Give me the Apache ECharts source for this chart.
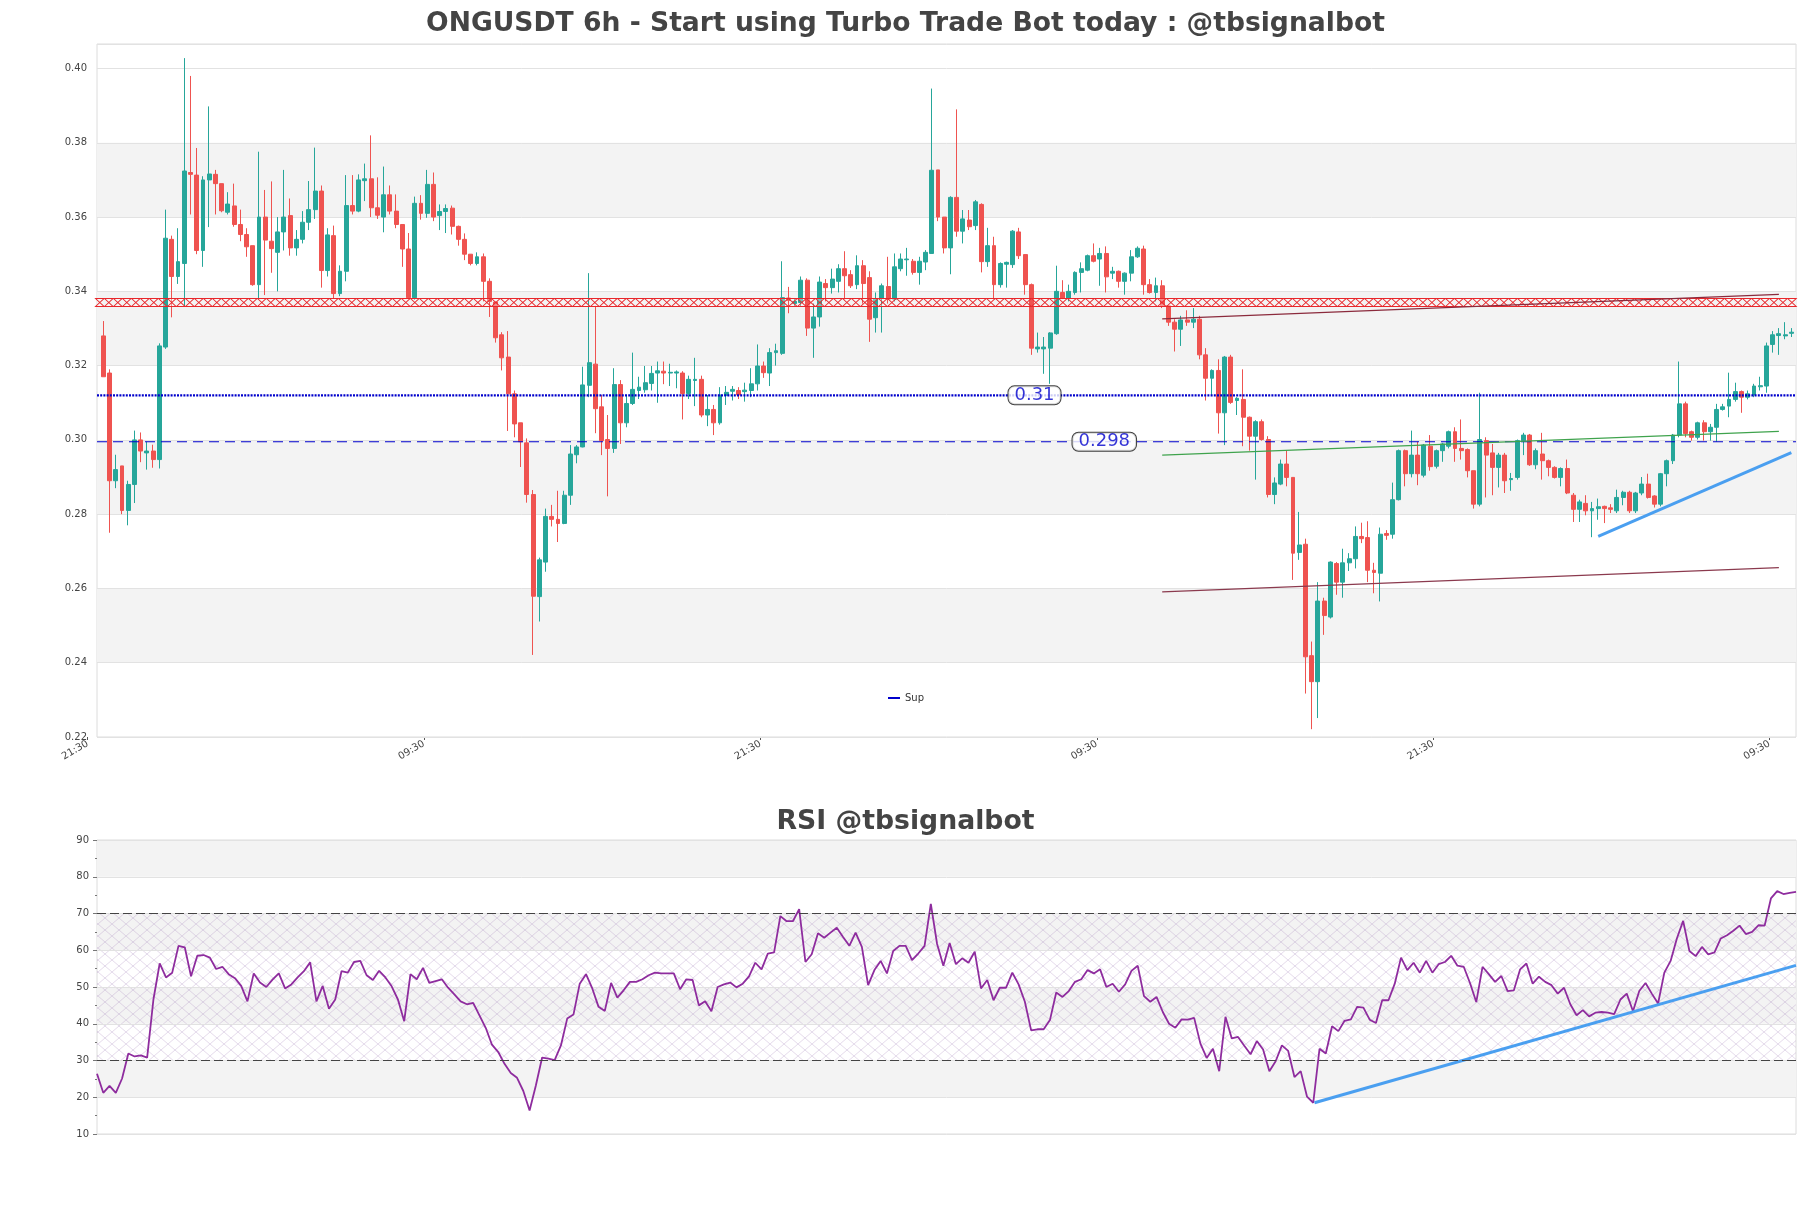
<!DOCTYPE html>
<html><head><meta charset="utf-8">
<script src="https://cdn.jsdelivr.net/npm/echarts@6/dist/echarts.min.js"></script>
<style>html,body{margin:0;padding:0;background:#fff}#c{width:1811px;height:1208px}</style>
</head><body><div id="c"></div>
<script>
// ---------- DATA ----------
const opens = [.328,.318,.289,.293,.281,.288,.300,.2965,.297,.2947,.325,.354,.344,.3475,.372,.3713,.351,.370,.3715,.369,
.3613,.363,.358,.3553,.3523,.3418,.360,.3535,.3505,.356,.3604,.3517,.354,.3586,.362,.367,.3456,.355,.3394,.3454,
.3631,.3616,.3698,.3703,.3625,.360,.366,.3616,.358,.3514,.3383,.3637,.361,.3688,.3604,.3615,.3624,.3575,.354,.350,
.3475,.3493,.3427,.3371,.3283,.3223,.3124,.3046,.2992,.2853,.2578,.2671,.2794,.2786,.2775,.2851,.296,.2981,.3147,.3204,
.3089,.3001,.2977,.3149,.3046,.3098,.3133,.3135,.3152,.318,.3185,.318,.318,.318,.3125,.316,.3163,.3067,.3082,.3046,
.312,.3131,.3133,.313,.3133,.3151,.3199,.318,.3235,.3233,.3382,.3367,.337,.343,.3301,.3331,.3421,.341,.3427,.3461,
.3445,.3418,.3469,.3437,.3329,.3382,.3413,.3379,.3461,.3485,.3481,.3451,.3479,.3502,.3727,.360,.3517,.3653,.3562,.3592,
.3577,.3634,.348,.3523,.3418,.3473,.3472,.356,.3499,.3418,.3245,.3245,.3247,.3286,.3397,.3382,.3397,.3451,.3457,.3496,
.3487,.3502,.3449,.3454,.3427,.3449,.3493,.3514,.3418,.3397,.3415,.3361,.3317,.3298,.3323,.3317,.3325,.3229,.3166,.3187,
.3073,.3223,.3106,.3109,.3061,.301,.3049,.3001,.2853,.2881,.2935,.2899,.2697,.2719,.2419,.2349,.2566,.2523,.2667,.2617,
.2669,.268,.274,.2737,.2649,.2641,.2748,.2746,.2839,.2971,.2909,.2959,.2905,.2983,.2929,.2971,.2983,.3022,.2977,.2974,
.2917,.2827,.2998,.2965,.2926,.2959,.2893,.2899,.2998,.3013,.2933,.2962,.2944,.2926,.2899,.2923,.2851,.2813,.2829,.2809,
.2815,.2821,.2817,.2809,.2845,.2859,.2809,.2857,.2881,.2849,.2827,.2909,.2944,.3013,.3097,.3022,.3007,.3046,.3022,.3034,
.3082,.3091,.3109,.313,.3115,.3121,.3143,.3145,.3257,.3281,.328,.3287];
const closes = [.317,.289,.292,.281,.288,.300,.297,.297,.2947,.3253,.3543,.344,.348,.3724,.3715,.351,.370,.3716,.369,.3617,
.3635,.358,.3553,.352,.3418,.360,.3538,.3515,.356,.360,.3517,.354,.3586,.362,.367,.3456,.3552,.3394,.3454,.3631,
.3616,.370,.3703,.3625,.3605,.366,.3616,.358,.3514,.3383,.3637,.361,.3688,.360,.3615,.3623,.3575,.354,.350,.3475,
.3493,.3427,.3373,.3275,.3221,.3124,.3043,.2995,.2853,.2579,.2677,.2794,.2786,.2775,.2851,.2962,.2981,.3148,.3208,.3084,
.2998,.2977,.3149,.3046,.3098,.3136,.3142,.3154,.3179,.3186,.318,.3182,.3183,.3125,.3163,.3163,.3067,.3082,.3046,.3121,
.3128,.3136,.3121,.3134,.3151,.3199,.3181,.3235,.324,.3383,.3376,.3373,.343,.3301,.3331,.3425,.341,.3433,.3461,.3442,
.3415,.3469,.3421,.3325,.3379,.3415,.3379,.3466,.3487,.3487,.3451,.3481,.3505,.3726,.360,.3517,.3653,.3562,.3595,.3574,
.3641,.348,.3523,.3418,.3475,.3478,.3562,.3496,.3418,.3247,.325,.325,.3288,.340,.3382,.340,.3451,.3461,.3496,.3481,
.3502,.3439,.3454,.3427,.3449,.3493,.3516,.3418,.3397,.3415,.3361,.3317,.3298,.3323,.3317,.3325,.3229,.3166,.3187,.3073,
.3223,.3101,.3112,.3061,.301,.3049,.3001,.2853,.2884,.2935,.2899,.2695,.2717,.2416,.2349,.2566,.2527,.2671,.2617,.2669,
.268,.274,.2734,.2649,.2643,.2746,.2743,.2839,.2971,.2909,.2959,.2909,.2986,.2928,.2971,.2989,.3022,.2977,.2971,.2917,
.2827,.3001,.2959,.2926,.2959,.289,.2896,.2998,.3013,.2933,.2971,.2944,.2926,.2899,.2923,.2857,.2813,.2833,.2809,.2815,
.282,.2815,.2813,.2845,.2859,.2809,.2857,.2881,.2845,.2827,.2909,.2944,.3013,.3097,.3017,.3007,.3046,.3022,.3034,.3082,
.3089,.3109,.313,.3115,.3124,.3145,.3146,.3253,.3283,.3286,.3283,.329];
const lows = [.317,.275,.287,.280,.277,.283,.294,.292,.2925,.2923,.3245,.333,.342,.336,.3607,.350,.3466,.3573,.3607,.3613,
.3607,.3574,.3535,.3493,.3415,.3382,.339,.345,.340,.351,.3496,.3496,.3529,.3565,.3595,.341,.344,.338,.3387,.3427,
.3607,.3613,.3643,.360,.3595,.3559,.3607,.357,.3466,.338,.3377,.3593,.3598,.3589,.3565,.3557,.3553,.3523,.3484,.347,
.347,.3373,.3331,.3262,.3187,.3024,.3007,.2927,.2831,.2421,.2511,.2645,.2767,.2725,.2773,.2825,.2937,.298,.3115,.3018,
.2959,.2848,.2965,.2989,.3034,.3094,.311,.3127,.3133,.310,.315,.3145,.3139,.3055,.311,.3091,.3061,.3037,.3013,.3041,
.3094,.3106,.311,.3103,.3115,.3133,.3167,.3145,.320,.3229,.3341,.3358,.3358,.328,.3221,.3305,.3373,.3394,.3397,.3378,
.3409,.3406,.3367,.3264,.3289,.3289,.3367,.3373,.3454,.3442,.3445,.3418,.3457,.3502,.3589,.3502,.3446,.3547,.3529,.3565,
.3565,.3451,.3466,.3382,.341,.341,.3463,.3487,.3391,.3229,.3235,.3178,.3151,.3283,.3379,.3373,.3391,.3397,.3454,.3478,
.3415,.3397,.3433,.341,.3391,.3427,.349,.3391,.3394,.3373,.3355,.3307,.3238,.3253,.3307,.3301,.3217,.3106,.3121,.3017,
.2986,.3097,.3067,.2983,.2971,.2893,.2998,.2845,.2827,.2878,.2875,.2623,.2677,.2317,.2221,.2251,.2475,.2519,.2583,.2575,
.2647,.2654,.2722,.2617,.2587,.2565,.2731,.2734,.2837,.2875,.2899,.2878,.2899,.2917,.2923,.2941,.2977,.2941,.2947,.2899,
.2815,.2821,.2845,.2851,.2872,.2857,.2863,.2893,.2959,.293,.2921,.2893,.2902,.2896,.2875,.2854,.2779,.2779,.2797,.2738,
.2785,.2776,.2803,.2803,.2824,.2803,.2803,.2851,.2842,.2818,.2821,.2875,.2935,.3007,.3007,.2998,.3001,.2998,.2998,.2995,
.3079,.3061,.3103,.3073,.3109,.3115,.3133,.3127,.3235,.3229,.3271,.3277];
const highs = [.332,.319,.296,.293,.289,.3025,.302,.2995,.2987,.326,.362,.355,.357,.4028,.398,.3786,.371,.3898,.3727,.369,
.3667,.369,.362,.357,.3523,.3776,.3673,.3696,.360,.3727,.365,.3565,.3616,.3697,.3787,.3685,.357,.3577,.347,.3713,
.3713,.3715,.3744,.382,.3707,.3736,.3685,.3661,.358,.3557,.3655,.3659,.3727,.372,.3634,.3634,.3631,.3577,.3556,.350,
.3505,.3502,.3435,.3373,.329,.3293,.3133,.3046,.3004,.2865,.2683,.2815,.2825,.2863,.2863,.2986,.2986,.3197,.3449,.3361,
.3121,.3067,.3193,.3161,.3121,.3235,.317,.3199,.3199,.3211,.3211,.3205,.3187,.3185,.3173,.3221,.3173,.3121,.3094,.3142,
.3145,.3145,.3142,.3154,.3193,.3257,.3211,.3247,.3259,.3481,.3412,.3382,.344,.3435,.3367,.344,.3433,.3461,.3473,.3508,
.3457,.3497,.3484,.3454,.3397,.3421,.3493,.3502,.3502,.3517,.3487,.3493,.3511,.3946,.3727,.360,.3656,.389,.3619,.3619,
.3646,.3637,.3571,.3547,.3478,.348,.3565,.3571,.3499,.3421,.3289,.3277,.329,.3469,.343,.3418,.3454,.3478,.3499,.3529,
.3517,.3521,.3466,.3456,.3451,.3511,.3521,.3523,.3433,.3437,.343,.3361,.3325,.3334,.3349,.3355,.3334,.3247,.319,.3217,
.3226,.3229,.3115,.319,.3063,.3053,.3055,.301,.2899,.2947,.2971,.2899,.2806,.2734,.2457,.2617,.2575,.2673,.2671,.2707,
.2695,.2767,.2777,.2781,.2669,.2764,.2757,.2885,.2974,.2974,.3025,.2995,.2989,.3013,.2974,.2992,.3025,.3034,.3055,.2977,
.2917,.3127,.3007,.2989,.2965,.2965,.2911,.3001,.3019,.3016,.2977,.3019,.2947,.2929,.2926,.2947,.2857,.2839,.2851,.2833,
.2842,.2823,.2827,.2866,.2863,.2863,.286,.29,.2909,.2851,.2911,.2947,.3016,.3211,.3103,.3025,.3049,.3053,.3043,.3097,
.3097,.3181,.3154,.3133,.3133,.3151,.317,.3262,.3293,.3301,.3317,.3301];
const rsiValues = [26.4,21.2,23.1,21.2,25.1,31.9,31.1,31.4,30.8,46.6,
56.4,52.6,53.9,61.2,60.8,52.9,58.5,58.7,58.0,54.9,
55.5,53.5,52.4,50.3,46.1,53.7,51.2,50.0,52.0,53.7,
49.6,50.7,52.6,54.3,56.7,46.1,50.3,44.1,46.6,54.3,
53.9,56.8,57.1,53.2,51.9,54.4,52.6,50.2,46.6,40.7,
53.5,52.1,55.2,51.1,51.6,52.1,49.8,48.0,46.1,45.3,
45.7,42.3,38.9,34.3,32.3,29.1,26.6,25.3,21.7,16.4,
23.2,30.8,30.5,30.1,34.1,41.4,42.5,50.9,53.5,49.6,
44.6,43.5,51.1,47.1,49.1,51.4,51.4,52.1,53.2,53.9,
53.7,53.7,53.7,49.4,52.1,51.9,45.0,46.1,43.4,50.0,
50.7,51.2,49.9,50.9,52.9,56.6,54.8,59.1,59.4,69.3,
67.9,67.9,71.2,56.8,58.9,64.6,63.4,64.8,66.1,63.6,
61.2,64.8,60.9,50.5,54.6,57.1,53.7,59.8,61.2,61.2,
57.3,59.1,61.2,72.6,61.7,55.8,62.0,56.2,57.8,56.6,
59.6,49.6,51.9,46.4,49.8,49.8,53.9,50.7,46.0,38.2,
38.5,38.5,41.0,48.5,47.3,48.9,51.4,52.1,54.6,53.7,
54.8,50.0,50.9,48.7,50.7,54.4,55.8,47.5,46.0,47.3,
43.2,40.0,38.9,41.2,41.1,41.6,34.6,30.7,33.2,27.1,
41.9,36.0,36.4,34.0,31.7,35.3,33.0,27.1,29.8,34.1,
32.6,25.5,27.1,20.2,18.5,33.2,31.9,39.3,38.0,40.8,
41.2,44.6,44.4,41.1,40.2,46.4,46.4,50.9,58.0,54.6,
56.6,53.9,57.1,53.9,56.2,56.8,58.5,55.8,55.5,51.1,
45.9,55.5,53.5,51.4,53.0,48.9,49.1,54.8,56.4,50.9,
52.8,51.4,50.5,48.2,49.8,45.3,42.3,43.7,42.0,43.0,
43.2,43.0,42.6,46.6,48.2,43.4,48.9,51.1,48.2,45.5,
53.9,57.1,63.2,68.0,59.8,58.4,60.9,58.9,59.4,63.2,
64.1,65.3,66.7,64.4,65.0,66.8,66.7,74.1,76.1,75.3,
75.6,75.9];

const xTickLabels = ['21:30','09:30','21:30','09:30','21:30','09:30'];
const xTickFirst = -2.5;
const xTickStep = 54;
const priceTicks = [0.22,0.24,0.26,0.28,0.30,0.32,0.34,0.36,0.38,0.40];
const rsiTicks = [10,20,30,40,50,60,70,80,90];

const resistanceLevel = 0.337;
const resMarkerStep = 1.445;   // marker spacing along the level, in candle units
const supLevel = 0.312, supLabel = '0.31', supLabelAt = 149.5;
const sup2Level = 0.2995, sup2Label = '0.298', sup2LabelAt = 160.7;
const trendUpper = [[170, 0.3326], [269, 0.3392]];
const trendGreen = [[170, 0.2959], [269, 0.3023]];
const trendLower = [[170, 0.2591], [269, 0.2656]];
const trendBlue  = [[240, 0.2740], [271, 0.2966]];
const rsiTrend   = [[194.2, 18.5], [271, 55.9]];

// ---------- LAYOUT ----------
const PL = 97, PW = 1699, PT = 44, PH = 693;
const XMIN = -1.01, XMAX = 271.75;
const RT = 840, RH = 294;
const BLUE = '#0000cc';

function makeHatch(){
  const c = document.createElement('canvas');
  c.width = 14; c.height = 12;
  const g = c.getContext('2d');
  g.strokeStyle = 'rgba(180,150,195,0.45)';
  g.lineWidth = 0.8;
  g.beginPath();
  g.moveTo(0,0); g.lineTo(14,12);
  g.moveTo(14,0); g.lineTo(0,12);
  g.stroke();
  return c;
}

const candleData = opens.map((o,i)=>[i, o, closes[i], lows[i], highs[i]]);
const resMarks = [];
for (let x = XMIN + 0.45; x <= XMAX - 0.2; x += resMarkerStep) resMarks.push([x, resistanceLevel]);
const rsiData = rsiValues.map((v,i)=>[i, v]);

const labelGridLeft = PL + (xTickFirst - XMIN)/(XMAX - XMIN)*PW;
const labelGridRight = PL + (xTickFirst + xTickStep*(xTickLabels.length-1) - XMIN)/(XMAX - XMIN)*PW;

const FONT = 'DejaVu Sans';
const chart = echarts.init(document.getElementById('c'), null, {renderer:'canvas'});

chart.setOption({
  animation: false,
  backgroundColor: '#ffffff',
  textStyle: {fontFamily: FONT},
  title: [
    {text: 'ONGUSDT 6h - Start using Turbo Trade Bot today : @tbsignalbot', left: 'center', top: 6,
     textStyle: {fontFamily: FONT, fontSize: 26.6, fontWeight: 'bold', color: '#444'}},
    {text: 'RSI @tbsignalbot', left: 'center', top: 804,
     textStyle: {fontFamily: FONT, fontSize: 26.7, fontWeight: 'bold', color: '#444'}}
  ],
  legend: {
    left: 883, top: 688, itemWidth: 12, itemHeight: 2, itemGap: 5,
    textStyle: {fontFamily: FONT, fontSize: 10, color: '#333'},
    data: [{name: 'Sup', icon: 'rect', itemStyle: {color: BLUE}}]
  },
  grid: [
    {left: PL, top: PT, width: PW, height: PH, show: true, borderColor: '#dcdcdc', borderWidth: 1, backgroundColor: 'transparent'},
    {left: PL, top: RT, width: PW, height: RH, show: true, borderColor: '#dcdcdc', borderWidth: 1, backgroundColor: 'transparent'},
    {left: labelGridLeft, top: PT+PH-1, width: labelGridRight - labelGridLeft, height: 1, show: false}
  ],
  xAxis: [
    {gridIndex: 0, type: 'value', min: XMIN, max: XMAX, show: false},
    {gridIndex: 1, type: 'value', min: 0, max: 271, show: false},
    {gridIndex: 2, type: 'value', min: xTickFirst, max: xTickFirst + xTickStep*(xTickLabels.length-1), interval: xTickStep,
     position: 'bottom', axisLine: {show: false}, splitLine: {show: false},
     axisTick: {show: true, length: 3, lineStyle: {color: '#555'}},
     axisLabel: {rotate: 30, fontSize: 10, color: '#444', fontFamily: FONT, margin: 6,
       formatter: v => xTickLabels[Math.round((v - xTickFirst)/xTickStep)] || ''}}
  ],
  yAxis: [
    {gridIndex: 0, type: 'value', min: priceTicks[0], max: 0.4066, interval: 0.02, z: 1,
     axisLine: {show: false}, axisTick: {show: false},
     axisLabel: {fontSize: 10, color: '#444', margin: 10, showMaxLabel: false, fontFamily: FONT,
       formatter: v => v.toFixed(2)},
     splitLine: {lineStyle: {color: '#e2e2e2', width: 1}}},
    {gridIndex: 1, type: 'value', min: rsiTicks[0], max: rsiTicks[rsiTicks.length-1], interval: 10, z: 1,
     axisLine: {show: false},
     axisTick: {show: true, length: 4, lineStyle: {color: '#777'}},
     minorTick: {show: true, splitNumber: 2, length: 2, lineStyle: {color: '#777'}},
     axisLabel: {fontSize: 10, color: '#444', margin: 8, fontFamily: FONT},
     splitLine: {lineStyle: {color: '#e2e2e2', width: 1}}},
    {gridIndex: 2, type: 'value', show: false}
  ],
  series: [
    {
      name: 'bands', type: 'line', xAxisIndex: 0, yAxisIndex: 0, data: [], silent: true,
      markArea: {silent: true, z: 0.5, itemStyle: {color: '#f3f3f3'},
        data: [[{yAxis: 0.24},{yAxis: 0.26}],[{yAxis: 0.28},{yAxis: 0.30}],[{yAxis: 0.32},{yAxis: 0.34}],[{yAxis: 0.36},{yAxis: 0.38}]]}
    },
    {
      name: 'ONGUSDT', type: 'candlestick', xAxisIndex: 0, yAxisIndex: 0, z: 2,
      data: candleData, barWidth: 4.4,
      itemStyle: {color: '#26a69a', color0: '#ef5350', borderColor: '#26a69a', borderColor0: '#ef5350', borderWidth: 1}
    },
    {
      name: 'Res', type: 'scatter', xAxisIndex: 0, yAxisIndex: 0, z: 3, silent: true,
      data: resMarks, symbol: 'path://M0,0L10,0L0,10L10,10Z', symbolSize: [8.5, 8],
      itemStyle: {color: 'rgba(255,255,255,0.35)', borderColor: '#e8262a', borderWidth: 1, opacity: 1}
    },
    {
      name: 'Sup', type: 'line', xAxisIndex: 0, yAxisIndex: 0, z: 3, symbol: 'none', silent: true,
      data: [[XMIN, supLevel], [XMAX, supLevel]],
      lineStyle: {color: BLUE, width: 2.2, type: [2, 1.2]}, itemStyle: {color: BLUE}
    },
    {
      name: 'Sup2', type: 'line', xAxisIndex: 0, yAxisIndex: 0, z: 3, symbol: 'none', silent: true,
      data: [[XMIN, sup2Level], [XMAX, sup2Level]],
      lineStyle: {color: BLUE, width: 1, type: [10, 6]}
    },
    {name: 'tu', type: 'line', xAxisIndex: 0, yAxisIndex: 0, z: 4, symbol: 'none', silent: true, data: trendUpper, lineStyle: {color: '#8b2a3c', width: 1.2}},
    {name: 'tg', type: 'line', xAxisIndex: 0, yAxisIndex: 0, z: 4, symbol: 'none', silent: true, data: trendGreen, lineStyle: {color: '#3fa34d', width: 1.2}},
    {name: 'tl', type: 'line', xAxisIndex: 0, yAxisIndex: 0, z: 4, symbol: 'none', silent: true, data: trendLower, lineStyle: {color: '#8b3a4e', width: 1.2}},
    {name: 'tb', type: 'line', xAxisIndex: 0, yAxisIndex: 0, z: 4, symbol: 'none', silent: true, data: trendBlue, lineStyle: {color: '#4a9ff0', width: 3}},
    {
      name: 'levelLabels', type: 'scatter', xAxisIndex: 0, yAxisIndex: 0, z: 6, silent: true, symbolSize: 0,
      data: [
        {value: [supLabelAt, supLevel], label: {formatter: supLabel}},
        {value: [sup2LabelAt, sup2Level], label: {formatter: sup2Label}}
      ],
      label: {show: true, position: 'inside', color: BLUE, fontSize: 18, fontFamily: FONT,
        backgroundColor: '#ffffff', borderColor: '#111', borderWidth: 1, borderRadius: 6, padding: [0, 6, 0, 6], lineHeight: 18}
    },
    // RSI
    {
      name: 'rsiBands', type: 'line', xAxisIndex: 1, yAxisIndex: 1, data: [], silent: true,
      markArea: {silent: true, z: 0.5, itemStyle: {color: '#f3f3f3'},
        data: [[{yAxis: 20},{yAxis: 30}],[{yAxis: 40},{yAxis: 50}],[{yAxis: 60},{yAxis: 70}],[{yAxis: 80},{yAxis: 90}]]}
    },
    {
      name: 'rsiHatch', type: 'line', xAxisIndex: 1, yAxisIndex: 1, data: [], silent: true,
      markArea: {silent: true, z: 0.7, itemStyle: {color: {image: makeHatch(), repeat: 'repeat'}},
        data: [[{yAxis: 30},{yAxis: 70}]]}
    },
    {
      name: 'RSI', type: 'line', xAxisIndex: 1, yAxisIndex: 1, z: 3, symbol: 'none', silent: true,
      data: rsiData, lineStyle: {color: '#8e2c9e', width: 1.8},
      markLine: {silent: true, symbol: 'none', label: {show: false},
        lineStyle: {color: '#444', width: 1, type: [9, 4]},
        data: [{yAxis: 70}, {yAxis: 30}]}
    },
    {name: 'rsiTrend', type: 'line', xAxisIndex: 1, yAxisIndex: 1, z: 4, symbol: 'none', silent: true, data: rsiTrend, lineStyle: {color: '#4a9ff0', width: 3}}
  ]
});
</script>
</body></html>
